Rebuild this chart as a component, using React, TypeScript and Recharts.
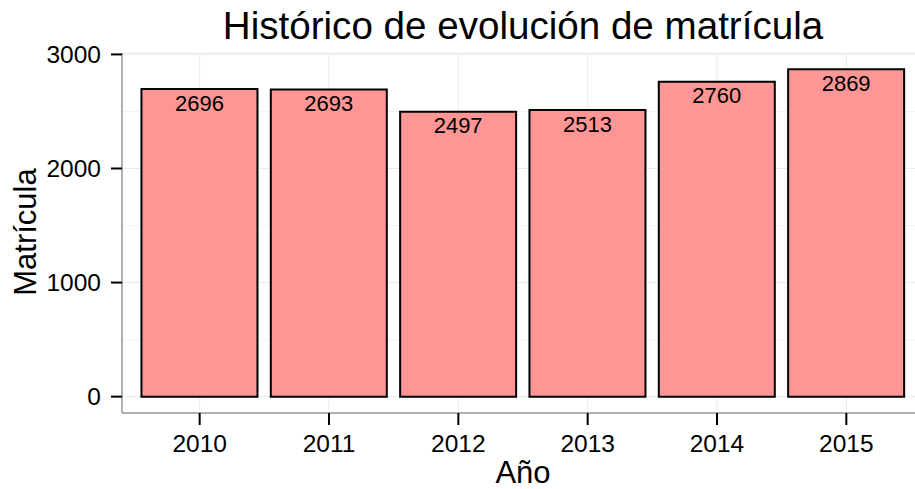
import {
  Bar,
  BarChart,
  CartesianGrid,
  LabelList,
  XAxis,
  YAxis,
} from "recharts";

const years = ["2010", "2011", "2012", "2013", "2014", "2015"];
const enrolment = [2696, 2693, 2497, 2513, 2760, 2869];
const yTicks = [0, 1000, 2000, 3000];
const yMinor = [500, 1500, 2500];

const data = years.map((year, i) => ({ year, value: enrolment[i] }));

const font = "'Liberation Sans', Arial, sans-serif";

export default function App() {
  return (
    <div
      style={{
        position: "absolute",
        left: 0,
        top: 0,
        width: 915,
        height: 489,
        overflow: "hidden",
        background: "#fff",
        fontFamily: font,
      }}
    >
      <BarChart
        width={932}
        height={489}
        data={data}
        margin={{ top: 53, right: 8, bottom: 0, left: 0 }}
        barCategoryGap="5%"
      >
        {/* minor grid first, then the major one */}
        <CartesianGrid
          stroke="#F3F3F3"
          vertical={false}
          horizontalValues={yMinor}
        />
        <CartesianGrid stroke="#EBEBEB" />
        <XAxis
          dataKey="year"
          height={76}
          padding={{ left: 13, right: 13 }}
          axisLine={{ stroke: "#999", strokeWidth: 1.5 }}
          tickLine={{ stroke: "#000", strokeWidth: 2 }}
          tickSize={12}
          tickMargin={10}
          tick={{ fill: "#000", fontSize: 24.5, fontFamily: font }}
        />
        <XAxis
          xAxisId="top"
          dataKey="year"
          orientation="top"
          height={0}
          tick={false}
          tickLine={false}
          axisLine={{ stroke: "#999", strokeWidth: 1.5 }}
        />
        <YAxis
          width={122}
          domain={[-143.45, 3012.45]}
          ticks={yTicks}
          allowDataOverflow
          axisLine={{ stroke: "#999", strokeWidth: 1.5 }}
          tickLine={{ stroke: "#000", strokeWidth: 2 }}
          tickSize={11}
          tickMargin={10}
          tick={{ fill: "#000", fontSize: 24.5, fontFamily: font }}
        />
        <Bar
          dataKey="value"
          fill="#FF9696"
          stroke="#000"
          strokeWidth={2}
          isAnimationActive={false}
        >
          <LabelList
            dataKey="value"
            position="insideTop"
            offset={6}
            fill="#000"
            fontSize={22}
            fontFamily={font}
          />
        </Bar>
      </BarChart>
      <div
        style={{
          position: "absolute",
          left: 122,
          top: 7,
          width: 802,
          textAlign: "center",
          fontSize: 38.6,
          lineHeight: 1,
          color: "#000",
        }}
      >
        Histórico de evolución de matrícula
      </div>
      <div
        style={{
          position: "absolute",
          left: 122,
          top: 458,
          width: 802,
          height: 30,
          lineHeight: "30px",
          textAlign: "center",
          fontSize: 31,
          color: "#000",
        }}
      >
        Año
      </div>
      <div
        style={{
          position: "absolute",
          left: 26 - 150,
          top: 232 - 20,
          width: 300,
          height: 40,
          lineHeight: "40px",
          textAlign: "center",
          fontSize: 31,
          color: "#000",
          transform: "rotate(-90deg)",
        }}
      >
        Matrícula
      </div>
    </div>
  );
}
